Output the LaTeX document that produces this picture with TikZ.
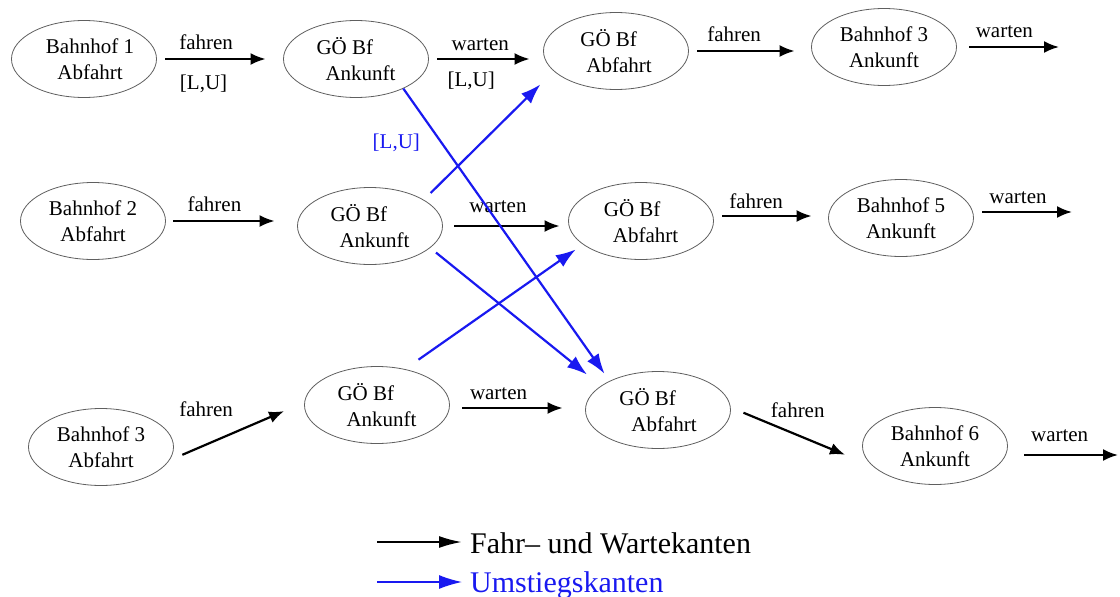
\documentclass[tikz,border=0pt]{standalone}
\usepackage{fontspec}
\setmainfont{Liberation Serif}
\usetikzlibrary{arrows.meta,shapes.geometric}
\definecolor{xfer}{RGB}{25,25,240}
\definecolor{rim}{RGB}{95,95,95}
\newcommand{\nodefont}{\fontsize{21}{26}\selectfont}
\newcommand{\keyfont}{\fontsize{30}{32}\selectfont}
\begin{document}
\begin{tikzpicture}[x=1pt,y=-1pt,
  station/.style={ellipse, draw=rim, line width=0.8pt, minimum width=145pt,
                  minimum height=77pt, inner sep=0pt, align=center, font=\nodefont},
  hub/.style={station, align=left},
  lbl/.style={font=\nodefont, inner sep=0pt},
  run/.style={line width=2.2pt, -{Latex[length=15pt,width=12pt]}},
  change/.style={xfer, line width=2.2pt, -{Latex[length=20pt,width=14pt]}},
]
\useasboundingbox (0,0) rectangle (1120,597);

% stations and the three GÖ arrival/departure pairs
\node[station] (B1)  at (84,59)   {\hspace*{12pt}Bahnhof 1\\\hspace*{12pt}Abfahrt};
\node[hub]     (A1)  at (356,59)  {GÖ Bf\\\hspace*{9pt}Ankunft};
\node[hub]     (D1)  at (616,51)  {GÖ Bf\\\hspace*{6pt}Abfahrt};
\node[station] (B3A) at (884,47)  {Bahnhof 3\\Ankunft};

\node[station] (B2)  at (93,221)  {Bahnhof 2\\Abfahrt};
\node[hub]     (A2)  at (370,226) {GÖ Bf\\\hspace*{9pt}Ankunft};
\node[hub]     (D2)  at (641,221) {GÖ Bf\\\hspace*{9pt}Abfahrt};
\node[station] (B5)  at (901,218) {Bahnhof 5\\Ankunft};

\node[station] (B3)  at (101,447) {Bahnhof 3\\Abfahrt};
\node[hub]     (A3)  at (377,405) {GÖ Bf\\\hspace*{9pt}Ankunft};
\node[hub]     (D3)  at (658,410) {GÖ Bf\\\hspace*{12pt}Abfahrt};
\node[station] (B6)  at (935,446) {Bahnhof 6\\Ankunft};

% open ends of the trailing waiting edges
\coordinate (e1) at (1059,47);
\coordinate (e2) at (1072,212);
\coordinate (e3) at (1118,455);

% driving and waiting edges
\draw[run, shorten <=8.5pt, shorten >=17.5pt] (B1.east) -- (B1.east -| A1.west)
  node[lbl, pos=.39, above=8pt] {fahren}
  node[lbl, pos=.37, below=15pt] {[L,U]};
\draw[run, shorten <=8.5pt, shorten >=13.5pt] (A1.east) -- (A1.east -| D1.west)
  node[lbl, pos=.45, above=7pt] {warten}
  node[lbl, pos=.37, below=12pt] {[L,U]};
\draw[run, shorten <=8.5pt, shorten >=16.5pt] (D1.east) -- (D1.east -| B3A.west)
  node[lbl, pos=.37, above=8pt] {fahren};
\draw[run, shorten <=12.5pt] (B3A.east) -- (e1)
  node[lbl, pos=.465, above=8pt] {warten};

\draw[run, shorten <=7.5pt, shorten >=22.5pt] (B2.east) -- (B2.east -| A2.west)
  node[lbl, pos=.37, above=8pt] {fahren};
\draw[run, shorten <=11.5pt, shorten >=8.5pt] (A2.east) -- (A2.east -| D2.west)
  node[lbl, pos=.44, above=12pt] {warten};
\draw[run, shorten <=8.5pt, shorten >=16.5pt] ([yshift=5pt]D2.east) -- ([yshift=5pt]D2.east -| B5.west)
  node[lbl, pos=.37, above=6pt] {fahren};
\draw[run, shorten <=8.5pt] (B5.east |- e2) -- (e2)
  node[lbl, pos=.45, above=7pt] {warten};

\draw[run, shorten <=14pt, shorten >=22pt] (B3.-11.2) -- (A3.178.7)
  node[lbl, midway, xshift=-30.7pt, yshift=22pt] {fahren};
\draw[run, shorten <=12.5pt, shorten >=22.5pt] ([yshift=-3pt]A3.east) -- ([yshift=-3pt]A3.east -| D3.west)
  node[lbl, pos=.36, above=7pt] {warten};
\draw[run, shorten <=13.8pt, shorten >=30pt] (D3.2.7) -- (B6.198.6)
  node[lbl, midway, xshift=-4pt, yshift=26.6pt] {fahren};
\draw[run, shorten <=16.5pt] (B6.east |- e3) -- (e3)
  node[lbl, pos=.47, above=12pt] {warten};

% transfer edges
\draw[change, shorten >=8.8pt] (A1.-32.2) -- (D3.149)
  node[lbl, text=xfer, pos=.184, xshift=-45pt] {[L,U]};
\draw[change, shorten <=9.6pt, shorten >=18.7pt] (A2.26.3) -- (D1.198.1);
\draw[change, shorten <=7.4pt, shorten >=17.9pt] (A2.-20.7) -- (D3.157.3);
\draw[change, shorten <=16.4pt, shorten >=8.7pt] (A3.52.3) -- (D2.202.9);

% legend
\coordinate (k1) at (377,542);
\coordinate (k2) at (377,582);
\node[anchor=base west, inner sep=0pt, font=\keyfont] (L1) at (470,553) {Fahr– und Wartekanten};
\node[anchor=base west, inner sep=0pt, font=\keyfont, text=xfer] (L2) at (470,592) {Umstiegskanten};
\draw[line width=2.2pt, -{Latex[length=23pt,width=12pt]}, shorten >=8pt] (k1) -- (k1 -| L1.west);
\draw[xfer, line width=1.4pt, -{Latex[length=23pt,width=14pt]}, shorten >=8pt] (k2) -- (k2 -| L2.west);
\end{tikzpicture}
\end{document}
